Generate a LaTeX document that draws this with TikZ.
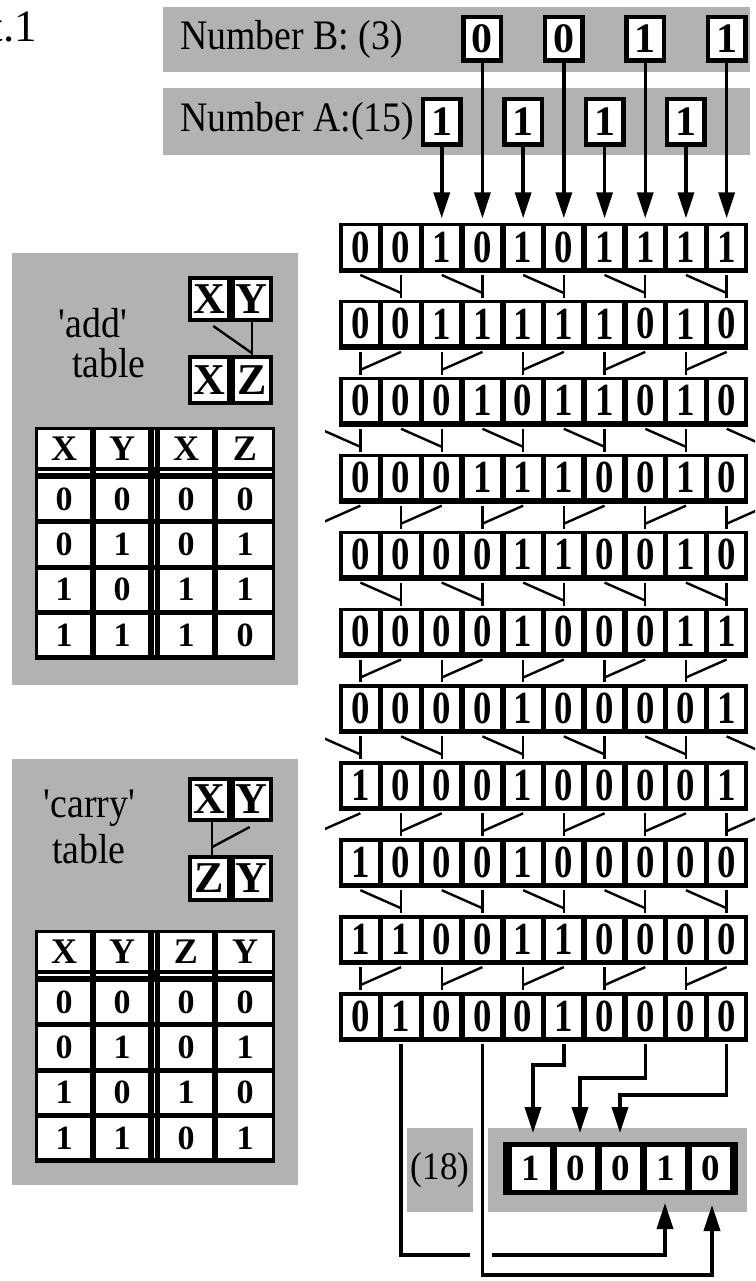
\documentclass[tikz,border=0pt]{standalone}
\usepackage{fontspec}
\setmainfont{Liberation Serif}
\newfontfamily\gridf{Liberation Serif}[FakeStretch=0.8]
\newfontfamily\labf{Liberation Serif}[FakeStretch=0.9]
\usetikzlibrary{arrows.meta,calc}
\def\tabxl{{38,96,160,218}}
\def\tabxr{{90,148,212,272}}
\newcommand\mytab[4]{%
  \begin{scope}[shift={(0,#2)}]
    \fill[black] (35,427) rectangle (275,660);
    \foreach \hh [count=\c] in {#3} {
      \pgfmathsetmacro\xl{\tabxl[\c-1]}
      \pgfmathsetmacro\xr{\tabxr[\c-1]}
      \node[tabcell, minimum width={\xr-\xl}, minimum height=37pt, font=\bfseries\fontsize{36}{36}\selectfont]
        (#1-h\c) at ({(\xl+\xr)/2},448.5) {\hh};
      \draw[white, line width=1.2pt] (\xl,472) -- (\xr,472);
    }
    \draw[white, line width=1.2pt] (154.5,430) -- (154.5,467);
    \foreach \rw [count=\r] in {#4} {
      \pgfmathsetmacro\yt{479+45.25*(\r-1)}
      \draw[white, line width=1.2pt] (154.5,\yt) -- (154.5,{\yt+40.25});
      \foreach \v [count=\c] in \rw {
        \pgfmathsetmacro\xl{\tabxl[\c-1]}
        \pgfmathsetmacro\xr{\tabxr[\c-1]}
        \node[tabcell, minimum width={\xr-\xl}, minimum height=40.25pt, font=\bfseries\fontsize{34}{34}\selectfont]
          (#1-\r-\c) at ({(\xl+\xr)/2},{\yt+20.125}) {\v};
      }
    }
  \end{scope}}
\begin{document}
\begin{tikzpicture}[x=1pt,y=-1pt,
  panel/.style={fill=black!30},
  gridbit/.style={fill=white, inner sep=0pt, minimum width=35.2pt, minimum height=41pt,
    font=\gridf\bfseries\fontsize{46}{46}\selectfont},
  inbox/.style={draw=black, line width=4.5pt, fill=white, inner sep=0pt, minimum width=37.5pt,
    font=\bfseries\fontsize{42}{42}\selectfont},
  minibox/.style={draw=black, line width=4pt, fill=white, inner sep=0pt, minimum width=38.5pt,
    font=\bfseries\fontsize{44}{44}\selectfont},
  tabcell/.style={fill=white, inner sep=0pt},
  outcell/.style={fill=white, inner sep=0pt, minimum width=38pt, minimum height=43pt,
    font=\bfseries\fontsize{37}{37}\selectfont},
  lab/.style={inner sep=0pt, font=\labf\fontsize{42}{42}\selectfont},
  wire/.style={line width=2.4pt},
  conn/.style={line width=3.5pt},
  arr/.style={line width=3.5pt, -{Triangle[length=26pt,width=16pt]}}
]
\useasboundingbox (0,0) rectangle (755,1281);
\clip (0,0) rectangle (755,1281);

% corner label
\node[inner sep=0pt, anchor=base east, font=\fontsize{45}{45}\selectfont] (fig) at (37,42) {t.1};

% input panels
\fill[panel] (163,7) rectangle (750,72);
\fill[panel] (163,88) rectangle (750,155);
\node[lab, anchor=base west] (nb) at (180,50) {Number B: (3)};
\node[lab, anchor=base west] (na) at (180,132) {Number A:(15)};

% grid rows
\foreach \k/\bits in {
  1/{0,0,1,0,1,0,1,1,1,1},
  2/{0,0,1,1,1,1,1,0,1,0},
  3/{0,0,0,1,0,1,1,0,1,0},
  4/{0,0,0,1,1,1,0,0,1,0},
  5/{0,0,0,0,1,1,0,0,1,0},
  6/{0,0,0,0,1,0,0,0,1,1},
  7/{0,0,0,0,1,0,0,0,0,1},
  8/{1,0,0,0,1,0,0,0,0,1},
  9/{1,0,0,0,1,0,0,0,0,0},
  10/{1,1,0,0,1,1,0,0,0,0},
  11/{0,1,0,0,0,1,0,0,0,0}}{
  \pgfmathsetmacro\T{223+76.9*(\k-1)}
  \fill[black] (339,\T) rectangle (748,{\T+50});
  \foreach \b [count=\j] in \bits {
    \node[gridbit] (c\k-\j) at ({340+40.7*(\j-0.5)},{\T+24}) {\b};
  }
  \foreach \j in {0,...,11}{
    \coordinate (r\k-s\j) at ({340+40.7*(\j-0.5)},{\T+52});
    \coordinate (r\k-d\j) at ({340+40.7*(\j-0.5)},{\T+70});
    \coordinate (r\k-t\j) at ({340+40.7*(\j-0.5)},{\T-2});
  }
}

% wires between rows
\begin{scope}
\clip (325,0) rectangle (755,1281);
\foreach \k/\ty/\of in {1/0/0,2/1/0,3/0/1,4/1/1,5/0/0,6/1/0,7/0/1,8/1/1,9/0/0,10/1/0}{
  \pgfmathtruncatemacro\kk{\k+1}
  \pgfmathtruncatemacro\np{4+\of}
  \foreach \p in {0,...,\np}{
    \pgfmathtruncatemacro\L{2*\p+1-\of}
    \pgfmathtruncatemacro\R{\L+1}
    \pgfmathtruncatemacro\V{\ty==0 ? \R : \L}
    \pgfmathtruncatemacro\S{\ty==0 ? \L : \R}
    \draw[wire] (r\k-s\V) -- (r\kk-t\V);
    \draw[wire] (r\k-s\S) -- (r\k-d\V);
  }
}
\end{scope}

% input cells
\foreach \col/\b [count=\i] in {4/0,6/0,8/1,10/1}{
  \node[inbox, minimum height=43.5pt] (b\i) at ({340+40.7*(\col-0.5)},39) {\b};
  \draw[arr, shorten >=8pt] (b\i.south) -- (c1-\col.north);
}
\foreach \col/\b [count=\i] in {3/1,5/1,7/1,9/1}{
  \node[inbox, minimum height=45.5pt] (a\i) at ({340+40.7*(\col-0.5)},122) {\b};
  \draw[arr, shorten >=8pt] (a\i.south) -- (c1-\col.north);
}

% add panel
\fill[panel] (12,253) rectangle (298,685);
\node[lab, anchor=base west] (addl1) at (58,337) {\textquotesingle add\textquotesingle};
\node[lab, anchor=base west] (addl2) at (72,377) {table};
\node[minibox, minimum height=42pt] (mx1) at (209.25,299) {X};
\node[minibox, minimum height=42pt] (my1) at (251.75,299) {Y};
\node[minibox, minimum height=46pt] (mx1b) at (209.25,380) {X};
\node[minibox, minimum height=46pt] (mz1) at (251.75,380) {Z};
\draw[wire] (my1.south) -- (mz1.north);
\draw[wire] ($(mx1.south)+(4,4)$) -- ($(my1.south)+(0,31)$);
\mytab{ta}{0}{X,Y,X,Z}{{0,0,0,0},{0,1,0,1},{1,0,1,1},{1,1,1,0}}

% carry panel
\fill[panel] (12,759) rectangle (298,1185);
\node[lab, anchor=base west] (carl1) at (43,817) {\textquotesingle carry\textquotesingle};
\node[lab, anchor=base west] (carl2) at (52,863) {table};
\node[minibox, minimum height=41pt] (mx2) at (209.25,799.5) {X};
\node[minibox, minimum height=41pt] (my2) at (251.75,799.5) {Y};
\node[minibox, minimum height=43pt] (mz2) at (209.25,878.5) {Z};
\node[minibox, minimum height=43pt] (my2b) at (251.75,878.5) {Y};
\draw[wire] ($(mx2.south)+(3,0)$) -- ($(mz2.north)+(3,0)$);
\draw[wire] ($(my2.south)+(-2,5)$) -- ($(mx2.south)+(3,25)$);
\mytab{tc}{503}{X,Y,Z,Y}{{0,0,0,0},{0,1,0,1},{1,0,1,0},{1,1,0,1}}

% output
\fill[panel] (407,1128) rectangle (473,1212);
\node[lab, font=\labf\fontsize{39}{39}\selectfont] (n18) at (440,1170) {(18)};
\fill[panel] (488,1128) rectangle (747,1212);
\fill[black] (503,1142) rectangle (738,1195);
\foreach \x/\b [count=\i] in {531/1,576/0,621/0,666/1,711/0}{
  \node[outcell] (o\i) at (\x,1168.5) {\b};
}
\coordinate (o1in) at (533,1133);
\coordinate (o2in) at (580,1133);
\coordinate (o3in) at (620,1133);
\coordinate (o4in) at (665,1203);
\coordinate (o5in) at (712,1205);
\coordinate (k6) at (533,1065);
\coordinate (k8) at (580,1078);
\coordinate (k10) at (620,1095);
\coordinate (g1) at (470,1255);
\coordinate (g2) at (492,1255);
\coordinate (k4) at (712,1275);
\draw[arr, shorten <=7pt] (c11-6.south) |- (k6) -- (o1in);
\draw[arr, shorten <=7pt] (c11-8.south) |- (k8) -- (o2in);
\draw[arr, shorten <=7pt] (c11-10.south) |- (k10) -- (o3in);
\draw[conn, shorten <=7pt] (c11-2.south) |- (g1);
\draw[arr] (g2) -| (o4in);
\draw[arr, shorten <=7pt] (c11-4.south) |- (k4) -- (o5in);
\end{tikzpicture}
\end{document}
